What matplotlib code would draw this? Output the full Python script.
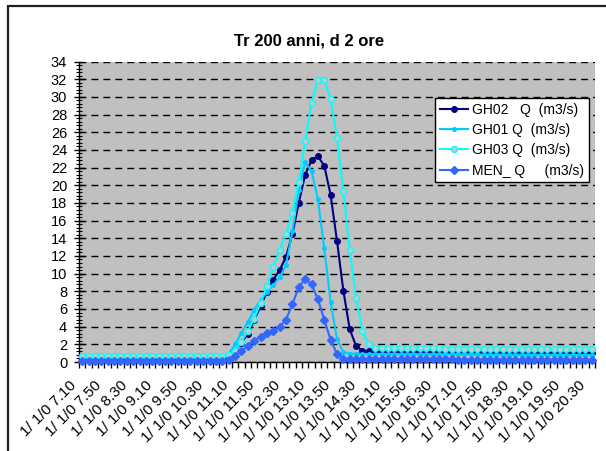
import matplotlib
matplotlib.use("Agg")
import matplotlib.pyplot as plt
from matplotlib.patches import Rectangle
from matplotlib.transforms import ScaledTranslation
from matplotlib.ticker import MultipleLocator, FixedLocator

plt.rcParams['font.family'] = ['Liberation Sans', 'DejaVu Sans']

# ---------------- data ----------------
title = "Tr 200 anni, d 2 ore"

hours = ["7.10", "7.50", "8.30", "9.10", "9.50", "10.30", "11.10", "11.50",
         "12.30", "13.10", "13.50", "14.30", "15.10", "15.50", "16.30",
         "17.10", "17.50", "18.30", "19.10", "19.50", "20.30"]
tick_labels = ["1/ 1/0 " + h for h in hours]

series_names = ["GH02   Q  (m3/s)", "GH01 Q  (m3/s)", "GH03 Q  (m3/s)", "MEN_ Q     (m3/s)"]

gh02 = [0.45, 0.45, 0.45, 0.45, 0.45, 0.45, 0.45, 0.45, 0.45, 0.45,
        0.45, 0.45, 0.45, 0.45, 0.45, 0.45, 0.45, 0.45, 0.45, 0.45,
        0.45, 0.45, 0.45, 0.6, 1.3, 2.2, 3.2, 4.75, 6.3, 7.95,
        9.3, 10.4, 11.9, 14.5, 18.0, 21.2, 22.8, 23.3, 22.2, 18.9,
        13.7, 8.06, 3.7, 1.8, 1.3, 1.2, 1.18, 1.17, 1.16, 1.16,
        1.15, 1.15, 1.14, 1.14, 1.13, 1.13, 1.12, 1.12, 1.11, 1.11,
        1.10, 1.10, 1.09, 1.09, 1.08, 1.08, 1.07, 1.07, 1.06, 1.06,
        1.05, 1.05, 1.04, 1.04, 1.03, 1.03, 1.02, 1.02, 1.01, 1.01,
        1.00]

gh01 = [0.5, 0.5, 0.5, 0.5, 0.5, 0.5, 0.5, 0.5, 0.5, 0.5,
        0.5, 0.5, 0.5, 0.5, 0.5, 0.5, 0.5, 0.5, 0.5, 0.5,
        0.5, 0.5, 0.5, 0.9, 2.0, 3.3, 4.5, 5.9, 7.0, 7.9,
        8.7, 9.6, 11.0, 14.8, 19.5, 22.6, 21.6, 18.4, 12.85, 6.8,
        2.6, 1.1, 0.95, 0.92, 0.9, 0.9, 0.9, 0.9, 0.89, 0.89,
        0.89, 0.88, 0.88, 0.88, 0.87, 0.87, 0.87, 0.86, 0.86, 0.86,
        0.85, 0.85, 0.85, 0.84, 0.84, 0.84, 0.83, 0.83, 0.83, 0.82,
        0.82, 0.82, 0.81, 0.81, 0.81, 0.80, 0.80, 0.80, 0.80, 0.80,
        0.80]

gh03 = [0.65, 0.65, 0.65, 0.65, 0.65, 0.65, 0.65, 0.65, 0.65, 0.65,
        0.65, 0.65, 0.65, 0.65, 0.65, 0.65, 0.65, 0.65, 0.65, 0.65,
        0.65, 0.65, 0.65, 0.75, 1.3, 2.3, 3.5, 4.9, 6.7, 8.6,
        10.7, 12.66, 14.5, 16.9, 20.4, 24.97, 29.3, 31.9, 31.9, 29.8,
        25.4, 19.3, 12.7, 7.2, 3.5, 2.0, 1.6, 1.58, 1.57, 1.56,
        1.56, 1.55, 1.55, 1.54, 1.54, 1.53, 1.53, 1.52, 1.52, 1.51,
        1.51, 1.50, 1.50, 1.49, 1.49, 1.48, 1.48, 1.47, 1.47, 1.46,
        1.46, 1.45, 1.45, 1.45, 1.44, 1.44, 1.44, 1.43, 1.43, 1.43,
        1.42]

men = [0.15, 0.15, 0.15, 0.15, 0.15, 0.15, 0.15, 0.15, 0.15, 0.15,
       0.15, 0.15, 0.15, 0.15, 0.15, 0.15, 0.15, 0.15, 0.15, 0.15,
       0.15, 0.15, 0.15, 0.2, 0.72, 1.28, 1.8, 2.4, 2.87, 3.24,
       3.54, 3.96, 4.8, 6.56, 8.44, 9.4, 8.8, 7.1, 4.8, 2.5,
       0.9, 0.35, 0.3, 0.3, 0.3, 0.3, 0.3, 0.3, 0.3, 0.3,
       0.3, 0.3, 0.3, 0.3, 0.29, 0.29, 0.29, 0.29, 0.29, 0.28,
       0.28, 0.28, 0.28, 0.28, 0.27, 0.27, 0.27, 0.27, 0.27, 0.26,
       0.26, 0.26, 0.26, 0.26, 0.25, 0.25, 0.25, 0.25, 0.25, 0.25,
       0.25]

label_step = 4  # one label every 4 categories (40 min)

# ---------------- figure ----------------
W, H = 606, 451
fig = plt.figure(figsize=(W / 100, H / 100), dpi=100)
fig.patch.set_facecolor("white")

# outer chart frame (extends past right/bottom edges)
fig.add_artist(Rectangle((8 / W, -0.1), 1.2, 1 - 6 / H + 0.1, transform=fig.transFigure,
                         fill=False, edgecolor="#202020", linewidth=1.6))

left, right = 79 / W, 595 / W
top, bottom = 1 - 61.5 / H, 1 - 362 / H
ax = fig.add_axes([left, bottom, right - left, top - bottom])
ax.set_facecolor("#C0C0C0")

n = len(gh02)
x = list(range(n))

styles = [
    dict(color="#000080", marker="o", markersize=4, markerfacecolor="#000080", markeredgecolor="#000080"),
    dict(color="#00CCFF", marker="o", markersize=2.6, markerfacecolor="#00CCFF", markeredgecolor="#00CCFF"),
    dict(color="#00FFFF", marker="o", markersize=4.2, markerfacecolor="#C8C8C8", markeredgecolor="#00FFFF", markeredgewidth=1.0),
    dict(color="#3366FF", marker="D", markersize=3.6, markerfacecolor="#3366FF", markeredgecolor="#3366FF"),
]
for data, name, st in zip([gh02, gh01, gh03, men], series_names, styles):
    ax.plot(x, data, linewidth=1.5, label=name, clip_on=False, zorder=3, **st)

ax.set_xlim(-0.5, n - 0.5)
ax.set_ylim(0, 34)

# y axis
ax.yaxis.set_major_locator(MultipleLocator(2))
ax.yaxis.set_minor_locator(MultipleLocator(0.4))
ax.tick_params(axis="y", which="major", direction="inout", length=7, width=1, labelsize=10.5, pad=5)
ax.tick_params(axis="y", which="minor", direction="inout", length=5, width=0.8)

# x axis: tick marks between categories, labels every 4th category
ax.xaxis.set_minor_locator(FixedLocator([k - 0.5 for k in range(n + 1)]))
label_pos = list(range(0, n, label_step))
ax.set_xticks(label_pos)
ax.set_xticklabels(tick_labels, rotation=45, ha="right", va="center", rotation_mode="anchor", fontsize=11)
ax.tick_params(axis="x", which="major", length=0, pad=15)
ax.tick_params(axis="x", which="minor", direction="out", length=4, width=1)
offset = ScaledTranslation(-6 / 72, 0, fig.dpi_scale_trans)
for lab in ax.get_xticklabels():
    lab.set_transform(lab.get_transform() + offset)

# grid
ax.grid(axis="y", which="major", color="black", linestyle=(0, (5, 3.6)), linewidth=1.0, zorder=1)
ax.set_axisbelow(True)

for s in ["top", "right"]:
    ax.spines[s].set_visible(False)
for s in ["left", "bottom"]:
    ax.spines[s].set_linewidth(1.0)
    ax.spines[s].set_color("black")

fig.text(309 / W, 1 - 41 / H, title, ha="center", va="center", fontsize=12, fontweight="bold")

leg = ax.legend(loc="upper left", bbox_to_anchor=((435 - 79) / (595 - 79), (362 - 98) / (362 - 61.5)),
                frameon=True, fancybox=False, fontsize=10, handlelength=2.0, handletextpad=0.3,
                borderpad=0.35, labelspacing=0.45, borderaxespad=0)
leg.get_frame().set_edgecolor("black")
leg.get_frame().set_linewidth(1.0)
leg.get_frame().set_facecolor("white")
leg.get_frame().set_alpha(1)
leg.set_zorder(5)

fig.savefig("out.png", dpi=100)
